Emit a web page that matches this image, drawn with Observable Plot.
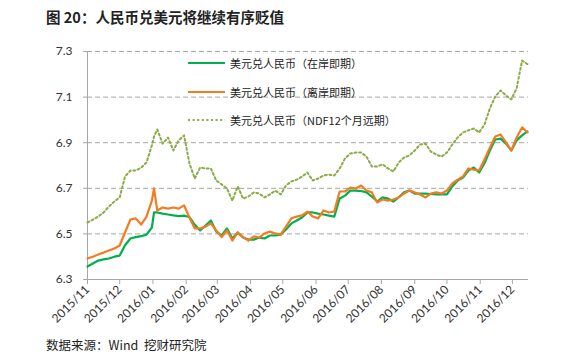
<!DOCTYPE html>
<html><head><meta charset="utf-8">
<script src="https://cdn.jsdelivr.net/npm/d3@7"></script>
<script src="https://cdn.jsdelivr.net/npm/@observablehq/plot@0.6"></script>
<style>
body{margin:0;background:#fff;}
#wrap{position:relative;width:580px;height:360px;overflow:hidden;font-family:Lato,"Noto Sans CJK SC",sans-serif;color:#222;}
#title{position:absolute;left:46px;top:8px;font-size:14.5px;font-weight:bold;font-family:"Noto Sans CJK SC",sans-serif;white-space:nowrap;line-height:18px;}
#chart{position:absolute;left:0;top:30px;}
#legend{position:absolute;left:188px;top:0;font-size:11px;font-family:"Noto Sans CJK SC",sans-serif;}
.lg{position:absolute;left:0;height:16px;line-height:16px;white-space:nowrap;display:flex;align-items:center;}
.lg svg{margin-right:5px;}
#caption{position:absolute;left:46px;top:337px;font-size:12.5px;font-family:"Noto Sans CJK SC",sans-serif;white-space:nowrap;line-height:16px;color:#222;}
</style></head>
<body><div id="wrap">
<div id="title">图 20：人民币兑美元将继续有序贬值</div>
<div id="chart"></div>
<div id="legend"></div>
<div id="caption">数据来源：Wind&nbsp;&nbsp;挖财研究院</div>
</div>
<script>
const dates = ["2015-11-01","2015-11-06","2015-11-11","2015-11-16","2015-11-21","2015-11-26","2015-12-01","2015-12-06","2015-12-11","2015-12-16","2015-12-21","2015-12-26","2015-12-31","2016-01-02","2016-01-05","2016-01-10","2016-01-15","2016-01-20","2016-01-25","2016-01-30","2016-02-04","2016-02-09","2016-02-14","2016-02-19","2016-02-24","2016-02-29","2016-03-05","2016-03-10","2016-03-15","2016-03-20","2016-03-25","2016-03-30","2016-04-04","2016-04-09","2016-04-14","2016-04-19","2016-04-24","2016-04-29","2016-05-04","2016-05-09","2016-05-14","2016-05-19","2016-05-24","2016-05-29","2016-06-03","2016-06-08","2016-06-13","2016-06-18","2016-06-23","2016-06-28","2016-07-03","2016-07-08","2016-07-13","2016-07-18","2016-07-23","2016-07-28","2016-08-02","2016-08-07","2016-08-12","2016-08-17","2016-08-22","2016-08-27","2016-09-01","2016-09-06","2016-09-11","2016-09-16","2016-09-21","2016-09-26","2016-10-01","2016-10-06","2016-10-11","2016-10-16","2016-10-21","2016-10-26","2016-10-31","2016-11-05","2016-11-10","2016-11-15","2016-11-20","2016-11-25","2016-11-30","2016-12-05","2016-12-10","2016-12-15"];

const onshore = [6.357,6.370,6.383,6.388,6.392,6.400,6.405,6.450,6.480,6.486,6.490,6.497,6.528,6.594,6.594,6.589,6.585,6.581,6.578,6.580,6.574,6.540,6.515,6.537,6.559,6.510,6.493,6.524,6.480,6.506,6.484,6.475,6.475,6.484,6.480,6.493,6.493,6.497,6.519,6.546,6.559,6.572,6.594,6.594,6.589,6.585,6.580,6.576,6.655,6.668,6.690,6.690,6.688,6.682,6.664,6.642,6.660,6.655,6.642,6.660,6.682,6.690,6.677,6.677,6.677,6.675,6.673,6.673,6.673,6.708,6.734,6.747,6.778,6.791,6.769,6.810,6.866,6.914,6.918,6.896,6.866,6.910,6.932,6.950];

const offshore = [6.392,6.400,6.410,6.418,6.427,6.436,6.449,6.506,6.563,6.568,6.541,6.576,6.646,6.700,6.603,6.616,6.611,6.616,6.611,6.625,6.572,6.524,6.524,6.532,6.546,6.515,6.486,6.515,6.471,6.506,6.486,6.471,6.489,6.484,6.502,6.510,6.502,6.497,6.532,6.568,6.576,6.581,6.598,6.576,6.568,6.603,6.594,6.598,6.686,6.686,6.703,6.699,6.712,6.690,6.682,6.638,6.651,6.646,6.651,6.660,6.677,6.690,6.682,6.673,6.660,6.677,6.682,6.677,6.690,6.721,6.738,6.752,6.787,6.782,6.778,6.826,6.878,6.927,6.936,6.901,6.866,6.923,6.967,6.945];

const ndf12m = [6.550,6.563,6.576,6.594,6.620,6.642,6.660,6.752,6.778,6.778,6.791,6.813,6.888,6.927,6.958,6.896,6.923,6.866,6.910,6.932,6.809,6.743,6.791,6.787,6.787,6.734,6.717,6.699,6.646,6.708,6.655,6.664,6.682,6.677,6.660,6.673,6.690,6.673,6.712,6.730,6.738,6.752,6.769,6.734,6.743,6.756,6.760,6.756,6.787,6.831,6.853,6.857,6.857,6.839,6.796,6.796,6.805,6.787,6.774,6.813,6.835,6.844,6.866,6.892,6.896,6.861,6.848,6.839,6.857,6.892,6.923,6.945,6.954,6.962,6.945,6.980,7.050,7.103,7.129,7.107,7.090,7.140,7.260,7.245];

const seriesNames = ["美元兑人民币（在岸即期）","美元兑人民币（离岸即期）","美元兑人民币（NDF12个月远期）"];
const yTicks = [6.3,6.5,6.7,6.9,7.1,7.3];
const monthLabels = ["2015/11","2015/12","2016/01","2016/02","2016/03","2016/04","2016/05","2016/06","2016/07","2016/08","2016/09","2016/10","2016/11","2016/12"];
const xDomain = ["2015-11-01","2016-12-16"];

const colors = {on:"#00b050", off:"#f47b20", ndf:"#8aab45"};
const dotDash = "2,2.6";
const rows = dates.map((d,i)=>({date:new Date(d), onshore:onshore[i], offshore:offshore[i], ndf:ndf12m[i]}));
const monthTicks = monthLabels.map(s=>new Date(s.replace("/","-")+"-01"));
const x0 = new Date(xDomain[0]);

const chart = Plot.plot({
  width:580, height:300, marginTop:21, marginBottom:51, marginLeft:87, marginRight:52,
  style:{fontFamily:"Lato, 'Noto Sans CJK SC', sans-serif", fontSize:"12px", color:"#333", background:"transparent", overflow:"visible"},
  x:{type:"utc", domain:xDomain.map(d=>new Date(d))},
  y:{domain:[6.3,7.3]},
  marks:[
    Plot.gridY(yTicks.filter(t=>t>6.3), {stroke:"#a6a6a6", strokeOpacity:1, strokeDasharray:"5,3"}),
    Plot.ruleX([x0], {stroke:"#a6a6a6"}),
    Plot.ruleY([6.3], {stroke:"#a6a6a6"}),
    Plot.axisY({ticks:yTicks, tickFormat:d=>d.toFixed(1), tickSize:4, tickPadding:11, stroke:"#a6a6a6", fill:"#333", label:null}),
    Plot.axisX({ticks:monthTicks, tickFormat:d=>monthLabels[monthTicks.findIndex(t=>+t===+d)], tickRotate:-45, tickSize:5, tickPadding:3, stroke:"#a6a6a6", fill:"#333", label:null}),
    Plot.line(rows, {x:"date", y:"ndf", stroke:colors.ndf, strokeWidth:2, strokeDasharray:dotDash}),
    Plot.line(rows, {x:"date", y:"onshore", stroke:colors.on, strokeWidth:2.2}),
    Plot.line(rows, {x:"date", y:"offshore", stroke:colors.off, strokeWidth:2.2})
  ]
});
document.getElementById("chart").appendChild(chart);

const lg = document.getElementById("legend");
const legendItems = [
  {name:seriesNames[0], color:colors.on, dash:null, w:2.2, y:63},
  {name:seriesNames[1], color:colors.off, dash:null, w:2.2, y:92},
  {name:seriesNames[2], color:colors.ndf, dash:dotDash, w:2, y:120}
];
legendItems.forEach(it=>{
  const div = document.createElement("div");
  div.className = "lg";
  div.style.top = (it.y-8)+"px";
  div.innerHTML = `<svg width="37" height="6"><line x1="0" x2="37" y1="3" y2="3" stroke="${it.color}" stroke-width="${it.w}" ${it.dash?`stroke-dasharray="${it.dash}"`:""}/></svg><span>${it.name}</span>`;
  lg.appendChild(div);
});
</script>
</body></html>
